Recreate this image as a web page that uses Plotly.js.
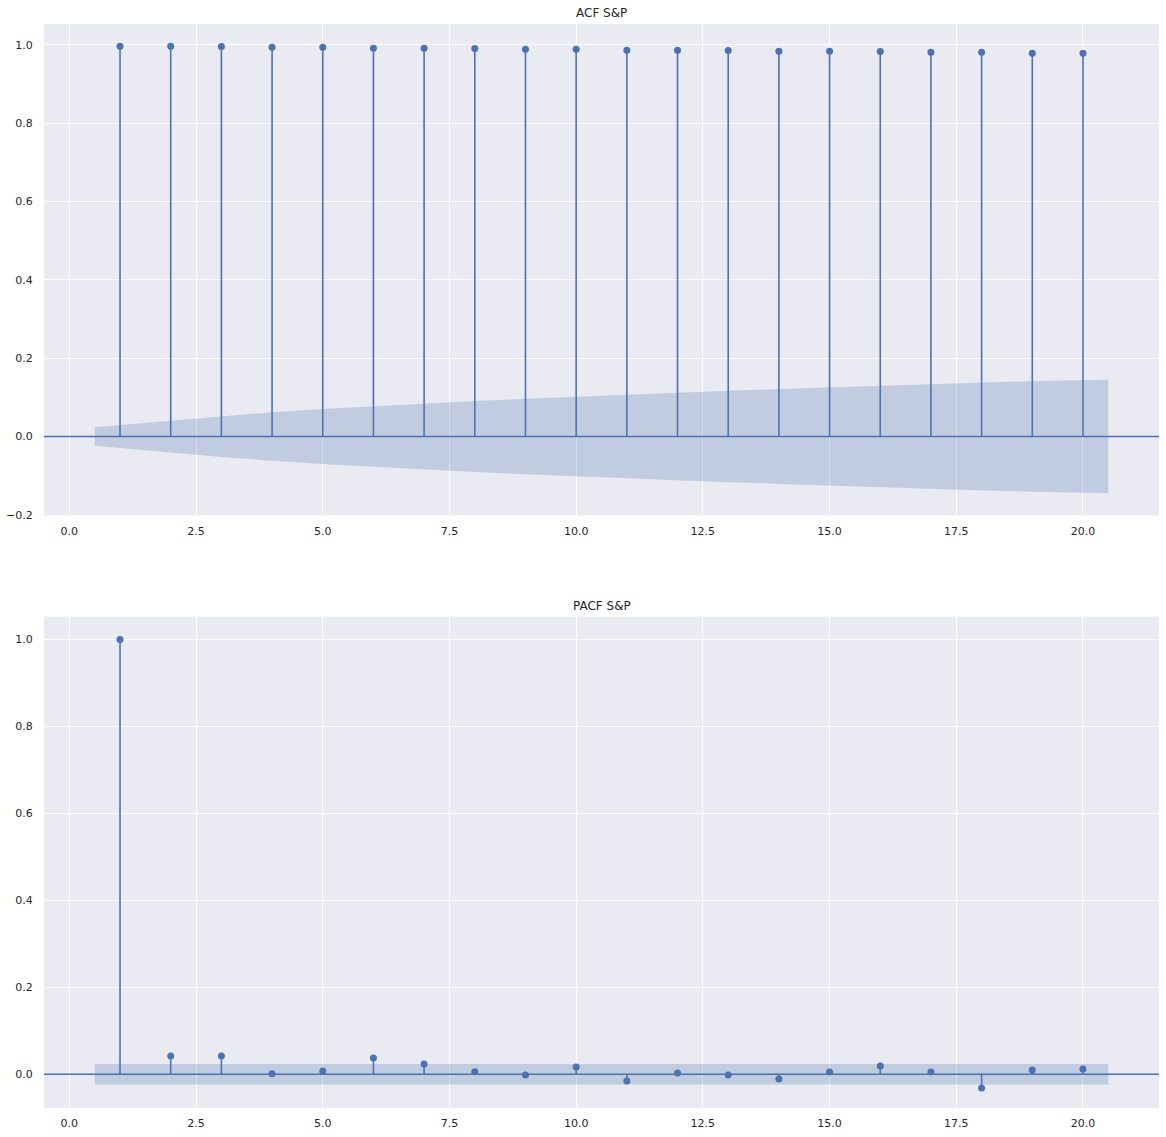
<!DOCTYPE html>
<html>
<head>
<meta charset="utf-8">
<script src="https://cdn.plot.ly/plotly-3.0.1.min.js"></script>
<style>
html,body{margin:0;padding:0;background:#fff;}
#chart{width:1166px;height:1137px;}
</style>
</head>
<body>
<div id="chart"></div>
<script>
// ---- data ----
const lags = [1,2,3,4,5,6,7,8,9,10,11,12,13,14,15,16,17,18,19,20];
const acfValues = [0.9967,0.9965,0.9962,0.9942,0.9940,0.9917,0.9915,0.9912,0.9890,0.9888,
                   0.9866,0.9864,0.9862,0.9840,0.9838,0.9836,0.9814,0.9812,0.9790,0.9788];
const acfBand = [0.0235,0.0406,0.0524,0.0620,0.0702,0.0776,0.0843,0.0905,0.0963,0.1018,
                 0.1070,0.1119,0.1166,0.1211,0.1254,0.1296,0.1337,0.1376,0.1414,0.1451];
const pacfValues = [0.999,0.042,0.042,0.001,0.0076,0.0376,0.0237,0.006,-0.0015,0.017,
                    -0.0153,0.003,-0.0015,-0.0107,0.0053,0.019,0.0053,-0.0313,0.010,0.0123];
const pacfBand = [0.0235,0.0235,0.0235,0.0235,0.0235,0.0235,0.0235,0.0235,0.0235,0.0235,
                  0.0235,0.0235,0.0235,0.0235,0.0235,0.0235,0.0235,0.0235,0.0235,0.0235];
const titles = ["ACF S&P", "PACF S&P"];

// ---- styles ----
const C0 = '#4c72b0';
const BAND = 'rgba(76,114,176,0.25)';
const FONT = 'DejaVu Sans, sans-serif';
const TXT = '#262626';

function bandX() {
  const n = lags.length;
  return lags.map((l, i) => i === 0 ? l - 0.5 : (i === n - 1 ? l + 0.5 : l));
}

function makeTraces(values, band, xa, ya) {
  const bx = bandX();
  const polyX = bx.concat(bx.slice().reverse());
  const polyY = band.concat(band.slice().reverse().map(v => -v));
  const stemX = [], stemY = [];
  lags.forEach((l, i) => { stemX.push(l, l, null); stemY.push(0, values[i], null); });
  return [
    {x: polyX, y: polyY, type: 'scatter', mode: 'lines', fill: 'toself',
     fillcolor: BAND, line: {width: 0, color: 'rgba(0,0,0,0)'}, xaxis: xa, yaxis: ya,
     hoverinfo: 'skip', showlegend: false},
    {x: stemX, y: stemY, type: 'scatter', mode: 'lines',
     line: {color: C0, width: 1.6}, xaxis: xa, yaxis: ya, hoverinfo: 'skip', showlegend: false},
    {x: lags, y: values, type: 'scatter', mode: 'markers',
     marker: {color: C0, size: 7}, xaxis: xa, yaxis: ya, hoverinfo: 'skip', showlegend: false}
  ];
}

const data = makeTraces(acfValues, acfBand, 'x', 'y')
  .concat(makeTraces(pacfValues, pacfBand, 'x2', 'y2'));

const xCommon = {
  range: [-0.5, 21.5], tickvals: [0, 2.5, 5, 7.5, 10, 12.5, 15, 17.5, 20], tickformat: '.1f',
  showgrid: true, gridcolor: '#ffffff', gridwidth: 1, zeroline: false, showline: false,
  ticks: 'outside', ticklen: 5, tickcolor: 'rgba(0,0,0,0)',
  tickfont: {family: FONT, size: 11, color: TXT}
};
const yCommon = {
  showgrid: true, gridcolor: '#ffffff', gridwidth: 1, zeroline: false, showline: false,
  ticks: 'outside', ticklen: 8, tickcolor: 'rgba(0,0,0,0)',
  tickformat: '.1f', tickfont: {family: FONT, size: 11, color: TXT}
};

const topDom = [0.5466, 1];
const botDom = [0, 0.4534];

const layout = {
  width: 1166, height: 1137,
  margin: {l: 44, r: 7, t: 24, b: 29, pad: 0},
  paper_bgcolor: '#ffffff', plot_bgcolor: '#eaeaf2',
  font: {family: FONT, color: TXT},
  showlegend: false,
  xaxis: Object.assign({}, xCommon, {anchor: 'y', domain: [0, 1]}),
  yaxis: Object.assign({}, yCommon, {anchor: 'x', domain: topDom, range: [-0.2018, 1.0536],
                                     tickvals: [-0.2, 0, 0.2, 0.4, 0.6, 0.8, 1.0]}),
  xaxis2: Object.assign({}, xCommon, {anchor: 'y2', domain: [0, 1]}),
  yaxis2: Object.assign({}, yCommon, {anchor: 'x2', domain: botDom, range: [-0.0774, 1.0519],
                                      tickvals: [0, 0.2, 0.4, 0.6, 0.8, 1.0]}),
  shapes: [
    {type: 'line', xref: 'x domain', yref: 'y', x0: 0, x1: 1, y0: 0, y1: 0,
     line: {color: C0, width: 1.6}, layer: 'above'},
    {type: 'line', xref: 'x2 domain', yref: 'y2', x0: 0, x1: 1, y0: 0, y1: 0,
     line: {color: C0, width: 1.6}, layer: 'above'}
  ],
  annotations: [
    {text: titles[0], xref: 'paper', yref: 'paper', x: 0.5, y: topDom[1], yshift: 2,
     xanchor: 'center', yanchor: 'bottom', showarrow: false,
     font: {family: FONT, size: 12, color: TXT}},
    {text: titles[1], xref: 'paper', yref: 'paper', x: 0.5, y: botDom[1], yshift: 2,
     xanchor: 'center', yanchor: 'bottom', showarrow: false,
     font: {family: FONT, size: 12, color: TXT}}
  ]
};

Plotly.newPlot('chart', data, layout, {staticPlot: true, displayModeBar: false});
</script>
</body>
</html>
